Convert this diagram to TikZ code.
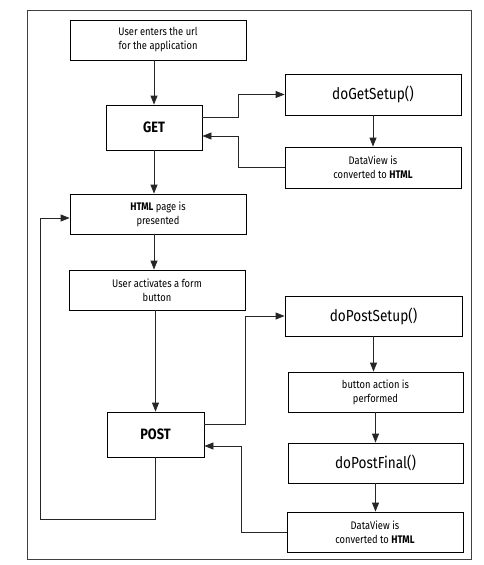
\documentclass[tikz,border=0pt]{standalone}
\usepackage{fontspec}
\setmainfont{Fira Sans}[FakeStretch=0.85]
\usetikzlibrary{arrows.meta}
\begin{document}
\begin{tikzpicture}[x=1pt,y=-1pt,
  box/.style={draw=black, line width=0.8pt, rectangle, inner sep=0pt, align=center, font=\fontsize{11}{14}\selectfont},
  bigbox/.style={box, font=\fontsize{16}{18}\selectfont},
  opbox/.style={box, font=\fontsize{15}{18}\selectfont\bfseries},
  conn/.style={draw=black!85, line width=0.8pt},
  arr/.style={conn, -{Triangle[length=9pt,width=7pt]}}]
\fill[white] (0,0) rectangle (484,565);
\useasboundingbox (0,0) rectangle (484,565);
\draw[black!75, line width=0.9pt] (27,10) rectangle (471,559);

\node[box, minimum width=176pt, minimum height=40pt] (enter) at (158,40) {User enters the url\\for the application};
\node[opbox, minimum width=96pt, minimum height=45pt] (get) at (154,127.5) {GET};
\node[bigbox, minimum width=176pt, minimum height=41pt] (getsetup) at (373,94.5) {doGetSetup()};
\node[box, minimum width=176pt, minimum height=41pt] (dv1) at (373,167.5) {DataView is\\converted to \textbf{HTML}};
\node[box, minimum width=176pt, minimum height=40pt] (html) at (158,214) {\textbf{HTML} page is\\presented};
\node[box, minimum width=176pt, minimum height=40pt] (act) at (157,290) {User activates a form\\button};
\node[bigbox, minimum width=177pt, minimum height=40pt] (postsetup) at (373.5,316) {doPostSetup()};
\node[box, minimum width=175pt, minimum height=40pt] (btn) at (375.5,392) {button action is\\performed};
\node[bigbox, minimum width=175pt, minimum height=40pt] (postfinal) at (375.5,463) {doPostFinal()};
\node[box, minimum width=176pt, minimum height=40pt] (dv2) at (375,532) {DataView is\\converted to \textbf{HTML}};
\node[opbox, minimum width=97pt, minimum height=45pt] (post) at (155.5,434.5) {POST};
\coordinate (loop) at (40,519);

\draw[arr] (enter.south -| get.north) -- (get.north);
\draw[arr] ([yshift=10.5pt]get.east) -- ++(36,0) |- (getsetup.west);
\draw[arr] (getsetup.south) -- (dv1.north);
\draw[arr] (dv1.west) -- ++(-46,0) |- ([yshift=-8.5pt]get.east);
\draw[arr] (get.south) -- (get.south |- html.north);
\draw[arr] (html.south -| get.south) -- (act.north -| get.south);
\draw[arr] (act.south -| post.north) -- (post.north);
\draw[arr] ([yshift=10.5pt]post.east) -- ++(41,0) |- (postsetup.west);
\draw[arr] (postsetup.south) -- (postsetup.south |- btn.north);
\draw[arr] (btn.south) -- (postfinal.north);
\draw[arr] (postfinal.south) -- (postfinal.south |- dv2.north);
\draw[arr] (dv2.west) -- ++(-45,0) |- ([yshift=-11.5pt]post.east);
\draw[arr] (post.south) |- (loop) |- ([yshift=-4pt]html.west);
\end{tikzpicture}
\end{document}
